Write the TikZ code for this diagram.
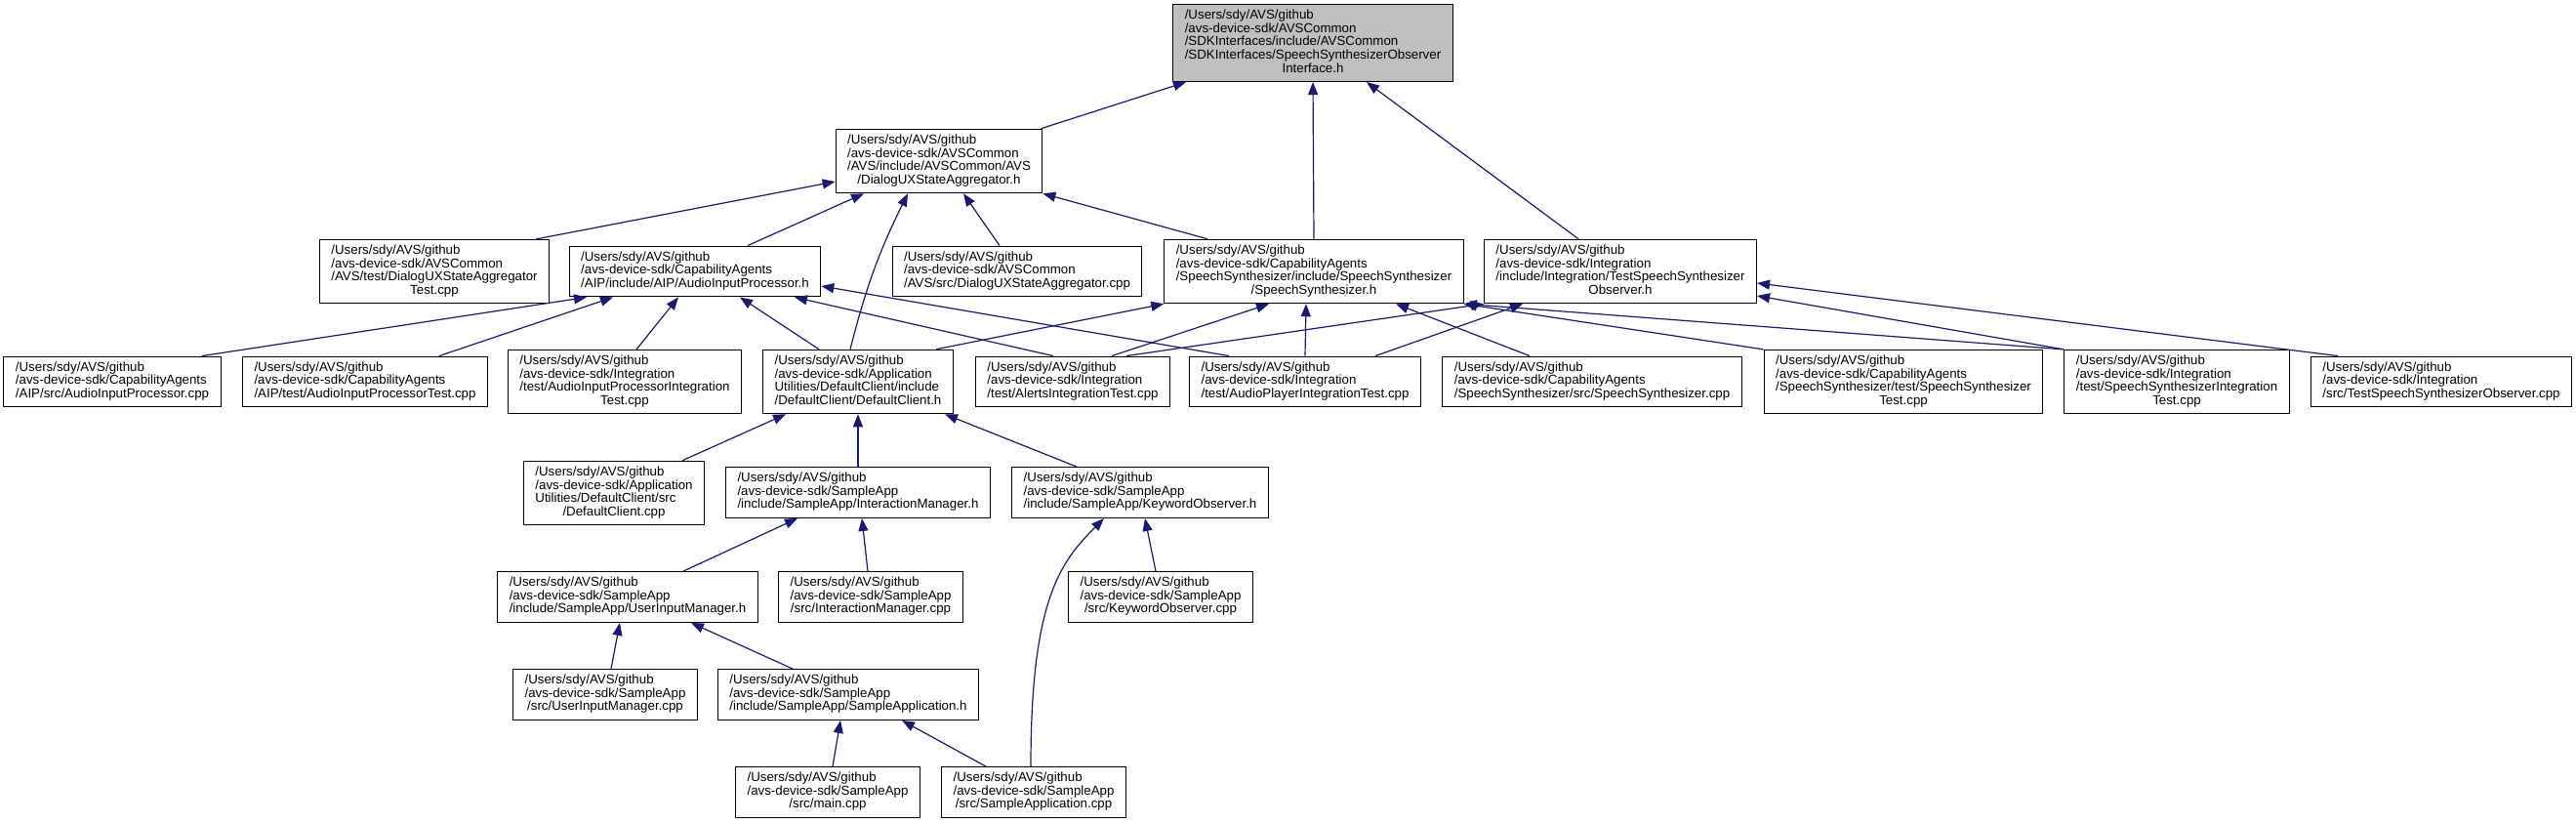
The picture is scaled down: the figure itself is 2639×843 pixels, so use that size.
\documentclass[tikz,border=0pt]{standalone}
\usepackage{fontspec}
\setmainfont{Liberation Sans}
\usetikzlibrary{arrows.meta}
\definecolor{edgeblue}{RGB}{25,25,112}
\definecolor{rootgray}{RGB}{191,191,191}
\newcommand{\fpath}[2]{\begin{tabular}{@{}l@{}}#1\\\multicolumn{1}{@{}c@{}}{#2}\end{tabular}}

\begin{document}
\begin{tikzpicture}[x=1bp, y=-1bp,
    file/.style={draw=black, line width=1bp, fill=white, inner xsep=12bp, inner ysep=5.5bp, font=\fontsize{13.3bp}{13.3bp}\selectfont},
    root/.style={file, fill=rootgray},
    dep/.style={-{Triangle[length=13bp, width=10bp]}, color=edgeblue, line width=1.2bp}
]
\useasboundingbox (0,0) rectangle (2639,843);

% top of the graph
\node[root] (ssoi) at (1345,44) {\fpath{/Users/sdy/AVS/github\\/avs-device-sdk/AVSCommon\\/SDKInterfaces/include/AVSCommon\\/SDKInterfaces/SpeechSynthesizerObserver}{Interface.h}};
\node[file] (duxsa) at (962,165) {\fpath{/Users/sdy/AVS/github\\/avs-device-sdk/AVSCommon\\/AVS/include/AVSCommon/AVS}{/DialogUXStateAggregator.h}};

% second row of headers
\node[file] (duxsatest) at (445,278) {\fpath{/Users/sdy/AVS/github\\/avs-device-sdk/AVSCommon\\/AVS/test/DialogUXStateAggregator}{Test.cpp}};
\node[file] (aiph) at (712,278) {\fpath{/Users/sdy/AVS/github\\/avs-device-sdk/CapabilityAgents}{/AIP/include/AIP/AudioInputProcessor.h}};
\node[file] (duxsacpp) at (1042,278) {\fpath{/Users/sdy/AVS/github\\/avs-device-sdk/AVSCommon}{/AVS/src/DialogUXStateAggregator.cpp}};
\node[file] (ssh) at (1346,278) {\fpath{/Users/sdy/AVS/github\\/avs-device-sdk/CapabilityAgents\\/SpeechSynthesizer/include/SpeechSynthesizer}{/SpeechSynthesizer.h}};
\node[file] (tssoh) at (1660,278) {\fpath{/Users/sdy/AVS/github\\/avs-device-sdk/Integration\\/include/Integration/TestSpeechSynthesizer}{Observer.h}};

% third row
\node[file] (aipcpp) at (115,391) {\fpath{/Users/sdy/AVS/github\\/avs-device-sdk/CapabilityAgents}{/AIP/src/AudioInputProcessor.cpp}};
\node[file] (aiptest) at (374,391) {\fpath{/Users/sdy/AVS/github\\/avs-device-sdk/CapabilityAgents}{/AIP/test/AudioInputProcessorTest.cpp}};
\node[file] (aipinttest) at (640,391) {\fpath{/Users/sdy/AVS/github\\/avs-device-sdk/Integration\\/test/AudioInputProcessorIntegration}{Test.cpp}};
\node[file] (dch) at (879,391) {\fpath{/Users/sdy/AVS/github\\/avs-device-sdk/Application\\Utilities/DefaultClient/include}{/DefaultClient/DefaultClient.h}};
\node[file] (alertsit) at (1099,391) {\fpath{/Users/sdy/AVS/github\\/avs-device-sdk/Integration}{/test/AlertsIntegrationTest.cpp}};
\node[file] (apit) at (1337,391) {\fpath{/Users/sdy/AVS/github\\/avs-device-sdk/Integration}{/test/AudioPlayerIntegrationTest.cpp}};
\node[file] (sscpp) at (1631,391) {\fpath{/Users/sdy/AVS/github\\/avs-device-sdk/CapabilityAgents}{/SpeechSynthesizer/src/SpeechSynthesizer.cpp}};
\node[file] (sstest) at (1950,391) {\fpath{/Users/sdy/AVS/github\\/avs-device-sdk/CapabilityAgents\\/SpeechSynthesizer/test/SpeechSynthesizer}{Test.cpp}};
\node[file] (ssit) at (2230,391) {\fpath{/Users/sdy/AVS/github\\/avs-device-sdk/Integration\\/test/SpeechSynthesizerIntegration}{Test.cpp}};
\node[file] (tssocpp) at (2501,391) {\fpath{/Users/sdy/AVS/github\\/avs-device-sdk/Integration}{/src/TestSpeechSynthesizerObserver.cpp}};

% sample app
\node[file] (dccpp) at (629,505) {\fpath{/Users/sdy/AVS/github\\/avs-device-sdk/Application\\Utilities/DefaultClient/src}{/DefaultClient.cpp}};
\node[file] (imh) at (879,504.5) {\fpath{/Users/sdy/AVS/github\\/avs-device-sdk/SampleApp}{/include/SampleApp/InteractionManager.h}};
\node[file] (koh) at (1168,504.5) {\fpath{/Users/sdy/AVS/github\\/avs-device-sdk/SampleApp}{/include/SampleApp/KeywordObserver.h}};
\node[file] (uimh) at (643,611.5) {\fpath{/Users/sdy/AVS/github\\/avs-device-sdk/SampleApp}{/include/SampleApp/UserInputManager.h}};
\node[file] (imcpp) at (892,611.5) {\fpath{/Users/sdy/AVS/github\\/avs-device-sdk/SampleApp}{/src/InteractionManager.cpp}};
\node[file] (kocpp) at (1189,611.5) {\fpath{/Users/sdy/AVS/github\\/avs-device-sdk/SampleApp}{/src/KeywordObserver.cpp}};
\node[file] (uimcpp) at (620,711.5) {\fpath{/Users/sdy/AVS/github\\/avs-device-sdk/SampleApp}{/src/UserInputManager.cpp}};
\node[file] (sah) at (869,711.5) {\fpath{/Users/sdy/AVS/github\\/avs-device-sdk/SampleApp}{/include/SampleApp/SampleApplication.h}};
\node[file] (maincpp) at (848,811.5) {\fpath{/Users/sdy/AVS/github\\/avs-device-sdk/SampleApp}{/src/main.cpp}};
\node[file] (sacpp) at (1059,811.5) {\fpath{/Users/sdy/AVS/github\\/avs-device-sdk/SampleApp}{/src/SampleApplication.cpp}};

% includes of the observer interface
\draw[dep] ([xshift=-2bp]duxsa.north east) -- ([xshift=-130bp]ssoi.south);
\draw[dep] (ssh.north) -- (ssoi.south);
\draw[dep] ([xshift=-43bp]tssoh.north) -- ([xshift=55bp]ssoi.south);

% includes of the aggregator
\draw[dep] ([xshift=-14bp]duxsatest.north east) -- ([yshift=-21bp]duxsa.west);
\draw[dep] ([xshift=54bp]aiph.north) -- ([xshift=-77bp]duxsa.south);
\draw[dep] ([xshift=-8bp]dch.north) to[bend left=6] ([xshift=-32bp]duxsa.south);
\draw[dep] ([xshift=-18bp]duxsacpp.north) -- ([xshift=25bp]duxsa.south);
\draw[dep] ([xshift=-109bp]ssh.north) -- (duxsa.south east);

% includes of AudioInputProcessor.h
\draw[dep] ([xshift=92bp]aipcpp.north) -- ([xshift=-111bp]aiph.south);
\draw[dep] ([xshift=76bp]aiptest.north) -- ([xshift=-84bp]aiph.south);
\draw[dep] ([xshift=12bp]aipinttest.north) -- ([xshift=-17bp]aiph.south);
\draw[dep] ([xshift=-40bp]dch.north) -- ([xshift=46bp]aiph.south);
\draw[dep] ([xshift=-20bp]alertsit.north) -- ([xshift=102bp]aiph.south);
\draw[dep] ([xshift=-78bp]apit.north) -- ([yshift=-15bp]aiph.east);

% includes of SpeechSynthesizer.h
\draw[dep] ([xshift=80bp]dch.north) -- (ssh.south west);
\draw[dep] ([xshift=40bp]alertsit.north) -- ([xshift=-46bp]ssh.south);
\draw[dep] (apit.north) -- ([xshift=-8bp]ssh.south);
\draw[dep] ([xshift=-64bp]sscpp.north) -- ([xshift=84bp]ssh.south);
\draw[dep] (sstest.north west) -- (ssh.south east);
\draw[dep] (ssit.north west) -- (ssh.south east);

% includes of TestSpeechSynthesizerObserver.h
\draw[dep] ([xshift=55bp]alertsit.north) -- (tssoh.south west);
\draw[dep] ([xshift=72bp]apit.north) -- ([xshift=-100bp]tssoh.south);
\draw[dep] (ssit.north west) -- ([yshift=-25bp]tssoh.east);
\draw[dep] ([xshift=-106bp]tssocpp.north) -- ([yshift=-12bp]tssoh.east);

% sample app chain
\draw[dep] ([xshift=70bp]dccpp.north) -- ([xshift=-74bp]dch.south);
\draw[dep] (imh.north) -- (dch.south);
\draw[dep] ([xshift=-65bp]koh.north) -- ([xshift=89bp]dch.south);
\draw[dep] ([xshift=57bp]uimh.north) -- ([xshift=-62bp]imh.south);
\draw[dep] ([xshift=-3bp]imcpp.north) -- ([xshift=4bp]imh.south);
\draw[dep] ([xshift=-5bp]kocpp.north) -- ([xshift=5bp]koh.south);
\draw[dep] ([xshift=-3bp]sacpp.north) .. controls +(0,-170) and +(-45,45) .. ([xshift=-37bp]koh.south);
\draw[dep] ([xshift=6bp]uimcpp.north) -- ([xshift=-8bp]uimh.south);
\draw[dep] ([xshift=-57bp]sah.north) -- ([xshift=65bp]uimh.south);
\draw[dep] ([xshift=5bp]maincpp.north) -- ([xshift=-8bp]sah.south);
\draw[dep] ([xshift=-49bp]sacpp.north) -- ([xshift=55bp]sah.south);
\end{tikzpicture}
\end{document}
